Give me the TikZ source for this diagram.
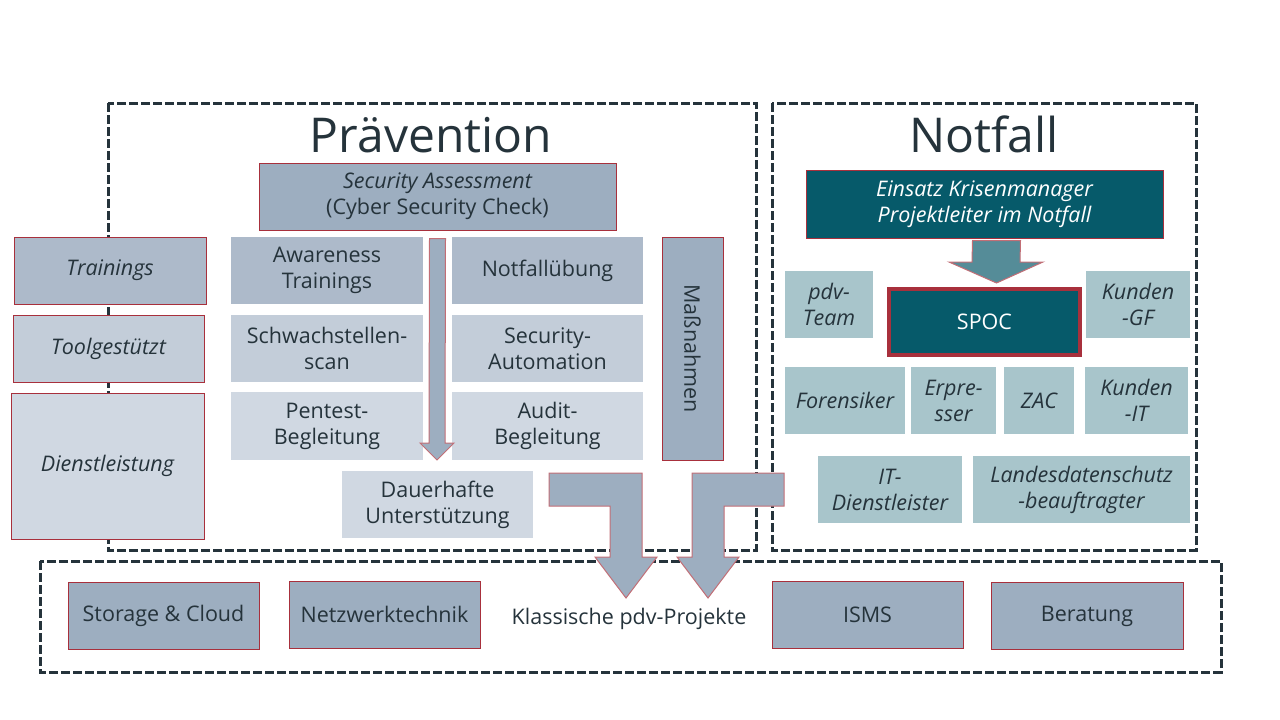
\documentclass[tikz,border=0pt]{standalone}
\usepackage{fontspec}
\setmainfont{Open Sans}
\usetikzlibrary{calc}
\definecolor{ink}{HTML}{25333B}
\definecolor{rim}{HTML}{A8303C}
\definecolor{slate}{HTML}{9DAEC0}
\definecolor{slateA}{HTML}{ADBACA}
\definecolor{slateB}{HTML}{C3CDD9}
\definecolor{slateC}{HTML}{D0D8E2}
\definecolor{petrol}{HTML}{065A6A}
\definecolor{petrolarrow}{HTML}{558C98}
\definecolor{mint}{HTML}{A8C5CB}

\begin{document}
\begin{tikzpicture}[x=1pt, y=-1pt,
  every node/.style={font=\fontsize{21.5}{26}\selectfont, text=ink, align=center, inner sep=0pt},
  frame/.style={draw=ink, line width=3pt, dash pattern=on 9pt off 3pt},
  title/.style={font=\fontsize{48}{54}\selectfont, anchor=base},
  tile/.style={fill=#1, minimum width=191pt, minimum height=67pt},
  redtile/.style={tile=#1, draw=rim, line width=1pt},
  ital/.style={font=\fontsize{21.5}{26}\selectfont\itshape},
  partner/.style={fill=mint, minimum height=67pt, ital},
  blockarrow/.style={fill=slate, draw=rim!70, line width=1pt}]
\useasboundingbox (0,0) rectangle (1280,720);

\draw[frame] (108,103) rectangle (756,550);
\draw[frame] (772,103) rectangle (1196,550);
\draw[frame] (40,561) rectangle (1221,672);

\node[title] (praev) at (431,152) {Prävention};
\node[title] (notfall) at (984,152) {Notfall};

\node[redtile=slateA, minimum width=192pt, ital] (trainings) at (110,270.5) {Trainings};
\node[redtile=slateB, ital] (tool) at (108.5,348.5) {Toolgestützt};
\node[redtile=slateC, minimum width=193pt, minimum height=146pt, ital] (dienst) at (107.5,466) {Dienstleistung};

\node[redtile=slate, minimum width=357pt] (assess) at (437.5,196.5) {\itshape Security Assessment\\(Cyber Security Check)};
\node[tile=slateA, minimum width=192pt] (aware) at (327,270.5) {Awareness\\Trainings};
\node[tile=slateA] (uebung) at (547.5,270.5) {Notfallübung};
\node[tile=slateB, minimum width=192pt] (scan) at (327,348.5) {Schwachstellen-\\scan};
\node[tile=slateB] (auto) at (547.5,348.5) {Security-\\Automation};
\node[tile=slateC, minimum width=192pt, minimum height=68pt] (pentest) at (327,426) {Pentest-\\Begleitung};
\node[tile=slateC, minimum height=68pt] (audit) at (547.5,426) {Audit-\\Begleitung};
\node[tile=slateC] (dauer) at (437.5,504.5) {Dauerhafte\\Unterstützung};
\node[fill=slate, draw=rim, line width=1pt, minimum width=223pt, minimum height=61pt, rotate=-90] (mass) at (692.5,348.5) {Maßnahmen};

\draw[blockarrow] ($(assess.south)+(-8,8)$) -- ($(assess.south)+(8,8)$) -- (445,443) -- (454,443)
  -- (437,460) -- (420,443) -- (429,443) -- cycle;

\node[fill=petrol, draw=rim, line width=1pt, minimum width=357pt, minimum height=68pt, ital, text=white] (einsatz) at (984.5,204) {Einsatz Krisenmanager\\Projektleiter im Notfall};
\node[fill=petrol, draw=rim, line width=4pt, minimum width=191pt, minimum height=66pt, text=white] (spoc) at (984.5,322) {SPOC};
\draw[fill=petrolarrow, draw=rim!70, line width=1pt] ($(einsatz.south)+(-12,2)$) -- ($(einsatz.south)+(36,2)$)
  -- (1020,262) -- (1043,262) -- ($(spoc.north)+(12,-4)$) -- (949,262) -- (972,262) -- cycle;

\node[partner, minimum width=88pt] (pdv) at (829,304.5) {pdv-\\Team};
\node[partner, minimum width=104pt] (kgf) at (1138,304.5) {Kunden\\-GF};
\node[partner, minimum width=120pt] (foren) at (845,400.5) {Forensiker};
\node[partner, minimum width=85pt] (erpr) at (953.5,400.5) {Erpre-\\sser};
\node[partner, minimum width=70pt] (zac) at (1039,400.5) {ZAC};
\node[partner, minimum width=103pt] (kit) at (1136.5,400.5) {Kunden\\-IT};
\node[partner, minimum width=144pt] (itdl) at (890,489.5) {IT-\\Dienstleister};
\node[partner, minimum width=217pt] (lfd) at (1081.5,489.5) {Landesdatenschutz\\-beauftragter};

\node[redtile=slate] (storage) at (163.5,616) {Storage \& Cloud};
\node[redtile=slate] (netz) at (384.5,614.5) {Netzwerktechnik};
\node (klassisch) at (629,619) {Klassische pdv-Projekte};
\node[redtile=slate] (isms) at (867.5,614.5) {ISMS};
\node[redtile=slate, minimum width=192pt] (beratung) at (1087,616) {Beratung};

\draw[blockarrow] (549,473) -- (642,473) -- (642,557) -- (657,557) -- (626,598) -- (595,557)
  -- (610,557) -- (610,506) -- (549,506) -- cycle;
\draw[blockarrow] (784,473) -- (692,473) -- (692,557) -- (677,557) -- (708,598) -- (739,557)
  -- (724,557) -- (724,506) -- (784,506) -- cycle;
\end{tikzpicture}
\end{document}
